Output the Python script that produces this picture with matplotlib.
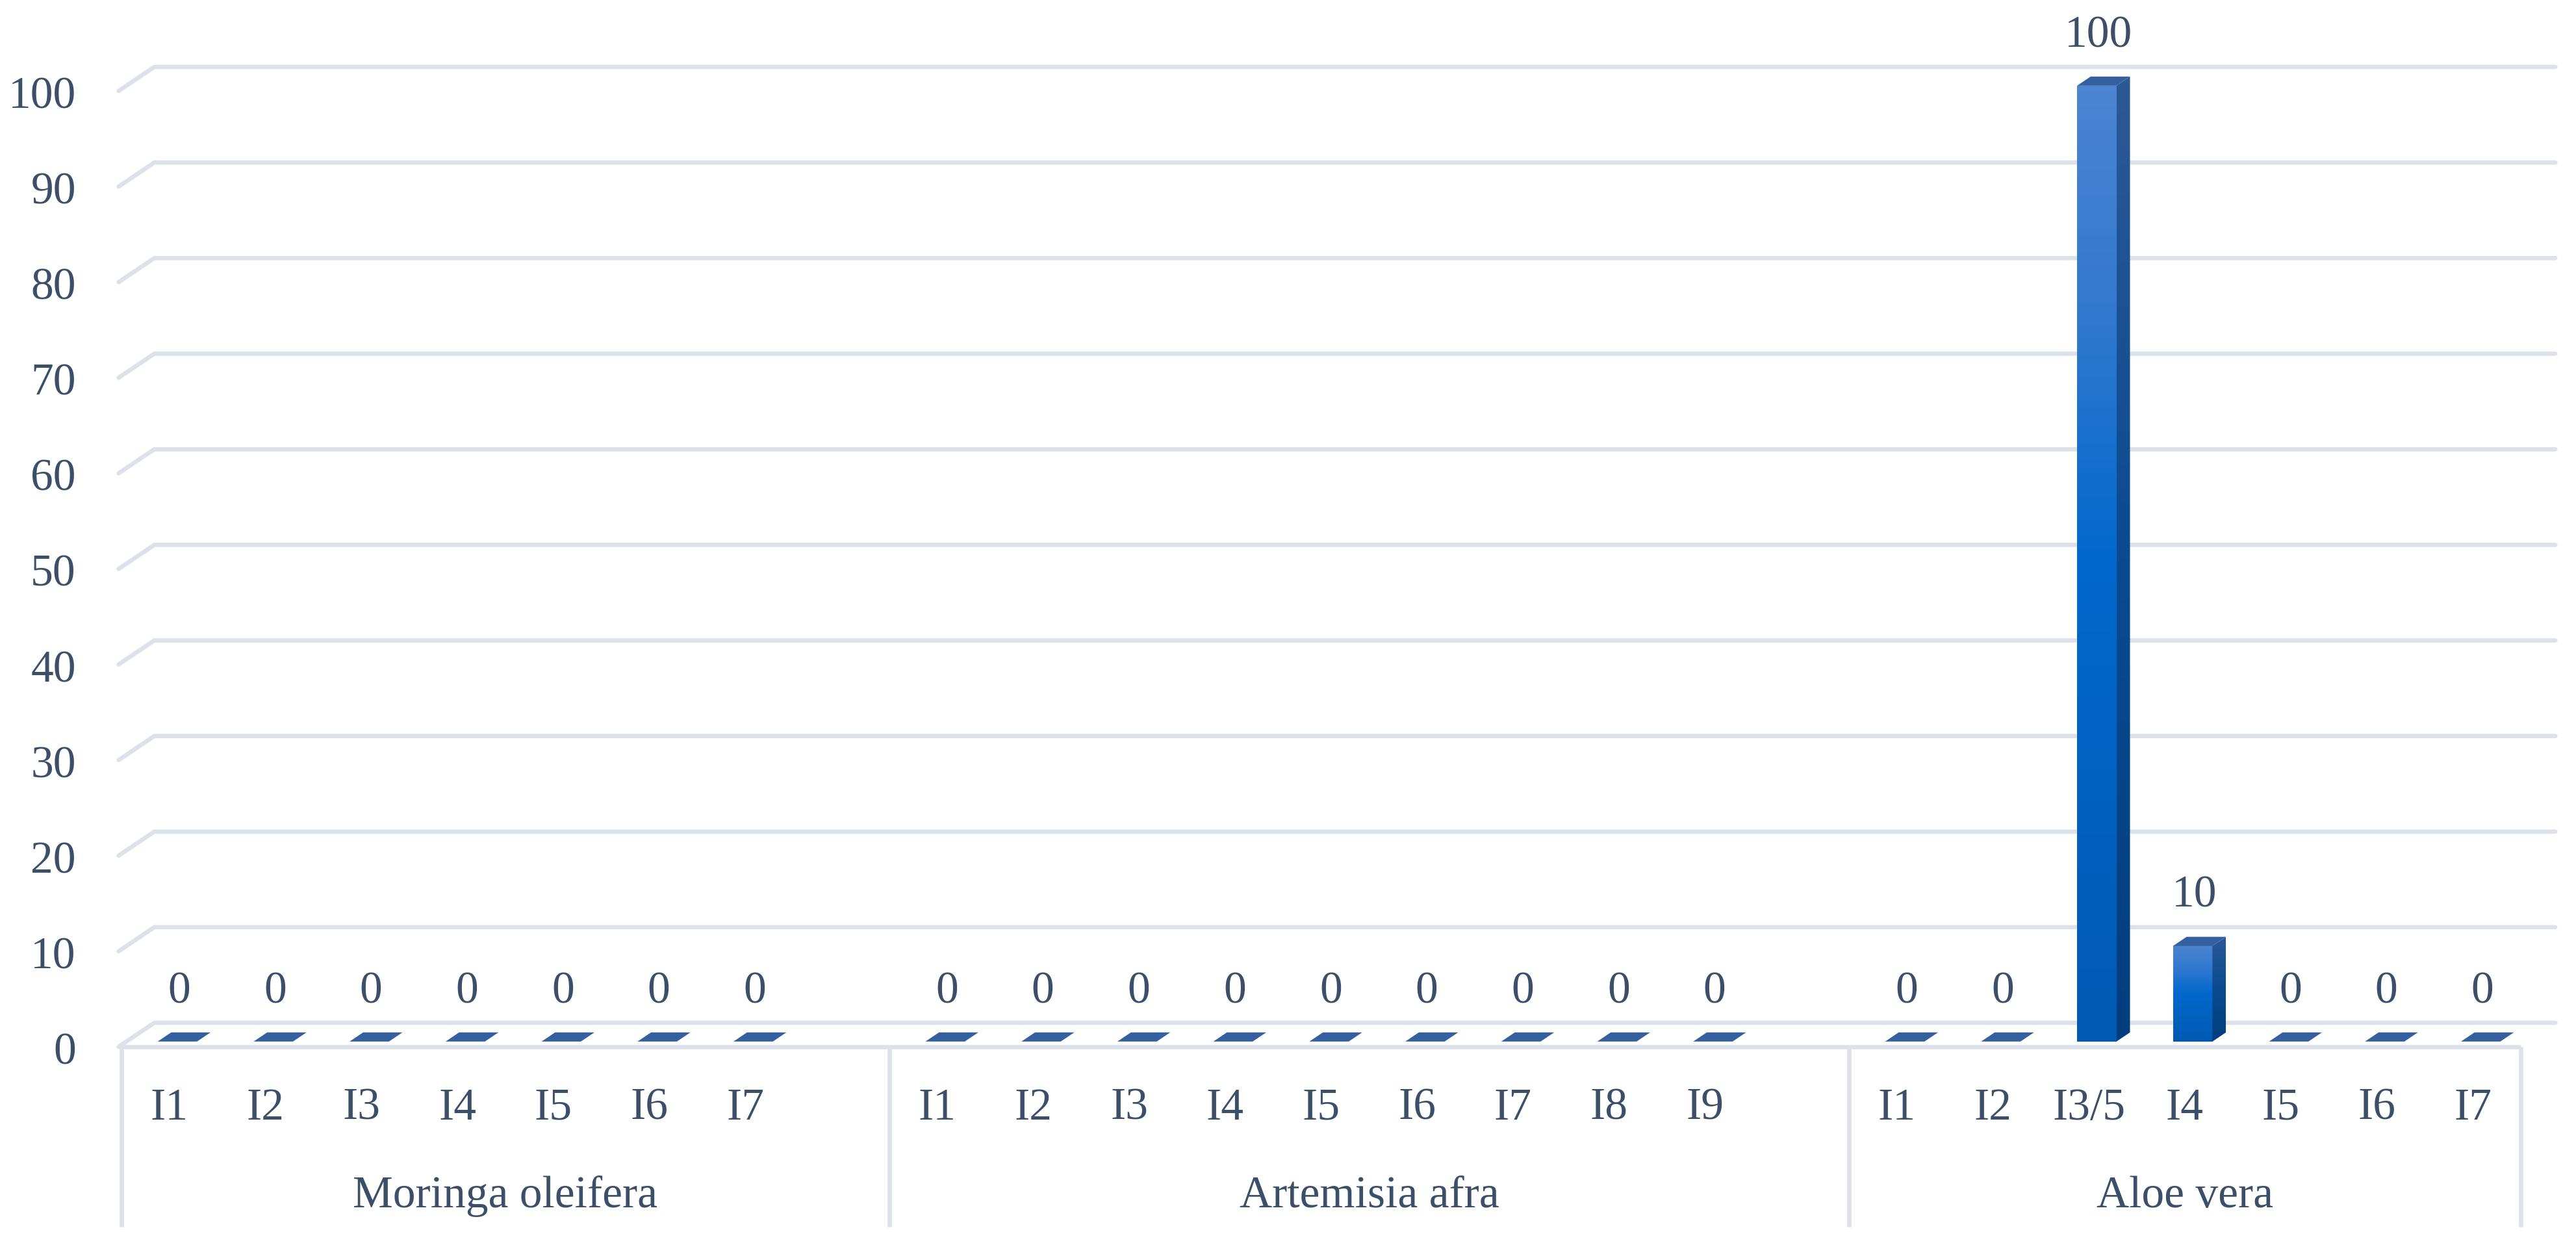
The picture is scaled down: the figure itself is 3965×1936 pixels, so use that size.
import matplotlib.pyplot as plt
import numpy as np
from matplotlib.colors import LinearSegmentedColormap
from matplotlib.patches import Polygon

plt.rcParams["font.family"] = ["Liberation Serif", "DejaVu Serif"]

groups = ["Moringa oleifera", "Artemisia afra", "Aloe vera"]
moringa_labels = ["I1", "I2", "I3", "I4", "I5", "I6", "I7"]
moringa_values = [0, 0, 0, 0, 0, 0, 0]
artemisia_labels = ["I1", "I2", "I3", "I4", "I5", "I6", "I7", "I8", "I9"]
artemisia_values = [0, 0, 0, 0, 0, 0, 0, 0, 0]
aloe_labels = ["I1", "I2", "I3/5", "I4", "I5", "I6", "I7"]
aloe_values = [0, 0, 100, 10, 0, 0, 0]
yticks = [0, 10, 20, 30, 40, 50, 60, 70, 80, 90, 100]

group_labels = [moringa_labels, artemisia_labels, aloe_labels]
group_values = [moringa_values, artemisia_values, aloe_values]
blank_after = [1, 1, 0]  # excel leaves an empty category after the first two groups

text_col = "#3b4f69"
grid_col = "#dde2ea"
fs = 50

W, H = 3965, 1936
fig = plt.figure(figsize=(W / 100, H / 100), dpi=100)
ax = fig.add_axes([0, 0, 1, 1])

# slot / value scale in pixels
px_slot = 147.72
px_unit = 14.71
x0_px, y0_px = 187, 1611
ax.set_xlim(-x0_px / px_slot, (W - x0_px) / px_slot)
ax.set_ylim(-(H - y0_px) / px_unit, y0_px / px_unit)
ax.axis("off")

# depth direction of the fake 3d view
DX, DY = 0.372, 2.515
d0, d1 = 0.22, 0.60

# slot positions
positions, labels, values, bounds = [], [], [], [0]
pos = 0
for labs, vals, blank in zip(group_labels, group_values, blank_after):
    for lab, val in zip(labs, vals):
        positions.append(pos)
        labels.append(lab)
        values.append(val)
        pos += 1
    pos += blank
    bounds.append(pos)
n_slots = pos

# gridlines (back wall + left side wall)
back_end = n_slots + 0.36
for t in yticks:
    ax.plot([-0.03, -0.03 + DX, back_end], [t, t + DY, t + DY], color=grid_col,
            lw=4.8, solid_capstyle="round", solid_joinstyle="round", zorder=1)
    ax.text(-0.475, t - 1.8, str(t), ha="right", va="baseline", fontsize=fs, color=text_col)
ax.plot([-0.03, n_slots], [0, 0], color=grid_col, lw=4.8, solid_capstyle="butt", zorder=1)

# category separators
for b in bounds:
    ax.plot([b, b], [0, -18.83], color=grid_col, lw=4.8, solid_capstyle="butt", zorder=1)

front_cmap = LinearSegmentedColormap.from_list(
    "front", [(0, "#005ab3"), (0.5, "#0068cc"), (0.75, "#2f78cf"), (1, "#4c84d1")])
side_cmap = LinearSegmentedColormap.from_list(
    "side", [(0, "#003e7e"), (0.5, "#0a4a90"), (1, "#2c5996")])
top_col = "#34609f"
grad = np.linspace(0, 1, 256).reshape(-1, 1)

bw = 0.41
ddx, ddy = (d1 - d0) * DX, (d1 - d0) * DY
for p, v in zip(positions, values):
    xl = p + 0.5 - bw / 2 + d0 * DX
    xr = xl + bw
    yb = d0 * DY
    if v > 0:
        ax.imshow(grad, cmap=front_cmap, origin="lower", aspect="auto",
                  extent=[xl, xr, yb, yb + v], zorder=3, interpolation="bilinear")
        side = Polygon([(xr, yb), (xr, yb + v), (xr + ddx, yb + v + ddy), (xr + ddx, yb + ddy)],
                       closed=True, facecolor="none", edgecolor="none", transform=ax.transData)
        ax.add_patch(side)
        im = ax.imshow(grad, cmap=side_cmap, origin="lower", aspect="auto",
                       extent=[xr, xr + ddx, yb, yb + v + ddy], zorder=3, interpolation="bilinear")
        im.set_clip_path(side)
    ax.add_patch(Polygon([(xl, yb + v), (xr, yb + v), (xr + ddx, yb + v + ddy), (xl + ddx, yb + v + ddy)],
                         closed=True, facecolor=top_col, edgecolor="none", zorder=4))
    ax.text(p + 0.6, v + 4.62, str(v), ha="center", va="baseline", fontsize=fs, color=text_col)

for p, lab in zip(positions, labels):
    ax.text(p + 0.5, -7.61, lab, ha="center", va="baseline", fontsize=fs, color=text_col)

for name, a, b in zip(groups, bounds[:-1], bounds[1:]):
    ax.text((a + b) / 2, -16.79, name, ha="center", va="baseline", fontsize=fs, color=text_col)

ax.set_xlim(-x0_px / px_slot, (W - x0_px) / px_slot)
ax.set_ylim(-(H - y0_px) / px_unit, y0_px / px_unit)

fig.savefig("out.png", dpi=100, facecolor="white")
